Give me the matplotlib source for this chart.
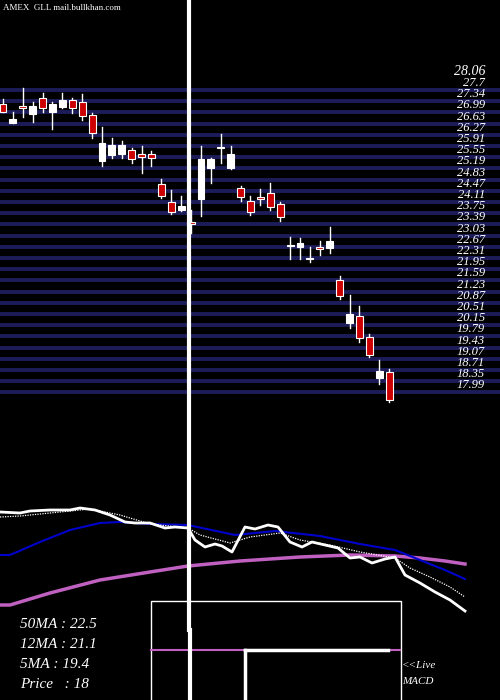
import numpy as np
import matplotlib
matplotlib.use('Agg')
import matplotlib.pyplot as plt
from matplotlib.patches import Rectangle

# candle data (open, high, low, close)
opens = [27.26, 26.65, 27.19, 26.94, 27.45, 27.00, 27.16, 27.38, 27.32, 26.90,
         25.43, 25.62, 25.65, 25.78, 25.65, 25.65, 24.69, 24.11, 23.85, 23.46,
         24.20, 25.20, 25.87, 25.20, 24.56, 24.14, 24.27, 24.40, 24.04, 22.69,
         22.66, 22.27, 22.66, 22.63, 21.60, 20.22, 20.44, 19.77, 18.45, 18.64]
highs = [27.42, 27.00, 27.77, 27.32, 27.61, 27.32, 27.61, 27.45, 27.58, 26.97,
         26.52, 26.16, 26.07, 25.84, 25.91, 25.75, 24.85, 24.49, 24.30, 23.85,
         25.91, 25.52, 26.29, 25.91, 24.62, 24.30, 24.53, 24.72, 24.11, 22.98,
         22.95, 22.66, 22.85, 23.30, 21.73, 21.12, 20.76, 19.86, 19.03, 18.74]
lows = [27.00, 26.65, 26.84, 26.68, 27.00, 26.45, 27.13, 26.97, 26.74, 26.16,
        25.26, 25.52, 25.52, 25.36, 25.04, 25.26, 24.24, 23.72, 23.82, 23.11,
        23.66, 24.72, 25.36, 25.17, 24.14, 23.69, 24.01, 23.85, 23.50, 22.27,
        22.27, 22.18, 22.40, 22.47, 20.99, 20.06, 19.61, 19.13, 18.26, 17.68]
closes = [27.00, 26.77, 27.13, 27.19, 27.13, 27.26, 27.38, 27.13, 26.87, 26.32,
          26.00, 25.94, 25.94, 25.49, 25.55, 25.52, 24.30, 23.79, 23.98, 23.40,
          25.49, 25.49, 25.84, 25.65, 24.27, 23.79, 24.20, 23.95, 23.62, 22.72,
          22.79, 22.31, 22.60, 22.85, 21.09, 20.51, 19.74, 19.19, 18.68, 17.74]

price_labels = ['28.06', '27.7', '27.34', '26.99', '26.63', '26.27', '25.91', '25.55',
                '25.19', '24.83', '24.47', '24.11', '23.75', '23.39', '23.03', '22.67',
                '22.31', '21.95', '21.59', '21.23', '20.87', '20.51', '20.15', '19.79',
                '19.43', '19.07', '18.71', '18.35', '17.99']

# moving-average panel (x pixel, panel height from top)
price_x = [0, 20, 30, 50, 70, 80, 95, 110, 125, 135, 150, 165, 175, 188, 195, 205, 215, 222,
           232, 245, 255, 268, 278, 290, 302, 312, 325, 338, 350, 360, 372, 385, 395, 405,
           420, 435, 450, 465]
price_y = [22, 23, 21, 20, 20, 18, 20, 25, 32, 33, 33, 38, 37, 38, 50, 57, 54, 56,
           62, 37, 39, 35, 37, 52, 57, 52, 55, 58, 68, 67, 73, 69, 67, 85,
           93, 102, 110, 121]
ma5_x = [0, 20, 60, 90, 120, 150, 188, 200, 230, 250, 280, 300, 330, 360, 395, 410, 430, 450, 465]
ma5_y = [27, 26, 22, 19, 25, 34, 38, 45, 53, 47, 43, 50, 55, 62, 68, 78, 87, 97, 107]
ma12_x = [0, 10, 40, 70, 100, 120, 150, 188, 235, 275, 320, 360, 395, 420, 445, 465]
ma12_y = [65, 65, 52, 40, 33, 32, 34, 35, 45, 41, 46, 54, 60, 70, 80, 89]
ma50_x = [0, 10, 50, 100, 150, 188, 240, 300, 350, 395, 420, 445, 465]
ma50_y = [115, 115, 103, 90, 82, 76, 71, 67, 65, 66, 68, 71, 74]

navy = '#1c1c5a'
red = '#cc0000'

fig = plt.figure(figsize=(5, 7), dpi=100, facecolor='black')

# price axes spanning whole figure
ax = fig.add_axes([0, 0, 1, 1], facecolor='black')
ax.set_xlim(-0.3, 50.2)
ax.set_ylim(8.10, 30.60)
ax.axis('off')

vals = [float(s) for s in price_labels]
for v in vals[1:]:
    ax.axhline(v, color=navy, lw=2.8, zorder=1)
for v, s in zip(vals, price_labels):
    ax.text(48.7, v + 0.03, s, color='white', fontsize=10 if s == '28.06' else 9,
            family='Liberation Serif', style='italic', ha='right', va='bottom', zorder=5)

for i, (o, h, l, c) in enumerate(zip(opens, highs, lows, closes)):
    col = red if c < o else 'white'
    ax.plot([i, i], [l, h], color='white', lw=1, zorder=3)
    bot, top = min(o, c), max(o, c)
    ax.add_patch(Rectangle((i - 0.35, bot), 0.7, max(top - bot, 0.04),
                           facecolor=col, edgecolor='white', lw=0.8, zorder=4))

# overlay axes in pixel units
ov = fig.add_axes([0, 0, 1, 1], facecolor='none')
ov.set_xlim(0, 500)
ov.set_ylim(700, 0)
ov.axis('off')

ov.text(3, 8, 'AMEX  GLL mail.bullkhan.com', color='white', fontsize=6.5,
        family='Liberation Serif', va='center')
ov.plot([188.5, 188.5], [0, 630], color='white', lw=3, zorder=6)
ov.plot([190, 190], [630, 700], color='white', lw=3, zorder=6)

off = 490
ov.plot(ma50_x, np.array(ma50_y) + off, color='#c060c0', lw=2.5)
ov.plot(ma12_x, np.array(ma12_y) + off, color='#0000cc', lw=1.5)
ov.plot(ma5_x, np.array(ma5_y) + off, color='white', lw=0.9, ls=(0, (1, 1)))
ov.plot(price_x, np.array(price_y) + off, color='white', lw=2)

ov.add_patch(Rectangle((150.5, 600.5), 250, 110, fill=False, edgecolor='white', lw=1))
ov.plot([151, 400], [650, 650], color='#c060c0', lw=1.5)
ov.plot([245, 388], [650, 650], color='white', lw=2.5)
ov.plot([245, 245], [650, 700], color='white', lw=2.5)

for k, s in enumerate(['50MA : 22.5', '12MA : 21.1', '5MA : 19.4', 'Price   : 18']):
    ov.text(20, 625 + 20 * k, s, color='white', fontsize=11, family='Liberation Serif',
            style='italic', va='center')
ov.text(402, 666, '<<Live', color='white', fontsize=8, family='Liberation Serif', style='italic', va='center')
ov.text(402, 681, 'MACD', color='white', fontsize=8, family='Liberation Serif', style='italic', va='center')

fig.savefig('out.png', dpi=100, facecolor='black')
